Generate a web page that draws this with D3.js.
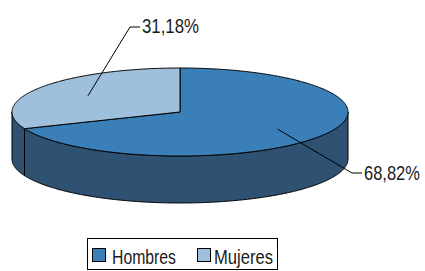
<!DOCTYPE html>
<html>
<head>
<meta charset="utf-8">
<script src="https://cdn.jsdelivr.net/npm/d3@7"></script>
<style>
  html, body { margin: 0; padding: 0; background: #fff; }
  svg { display: block; }
  text { font-family: "Liberation Sans", Arial, sans-serif; }
</style>
</head>
<body>
<svg id="chart" width="425" height="271"></svg>
<script>
const categories = ["Hombres", "Mujeres"];
const values = [68.82, 31.18];
const valueLabels = ["68,82%", "31,18%"];
const topColors = ["#3a7fb8", "#9ec0dc"];
const sideColors = ["#2f5172", "#2f5172"];

const W = 425, H = 271;
const cx = 180, cy = 112, rx = 168, ry = 44, depth = 47;

const svg = d3.select("#chart");
svg.append("rect").attr("width", W).attr("height", H).attr("fill", "#fff");

const pie = d3.pie().sort(null).value(d => d)(values);

const pt = (a, dy = 0, k = 1) => [cx + k * rx * Math.sin(a), cy - k * ry * Math.cos(a) + dy];

function arcPoints(a0, a1, dy) {
  const n = Math.max(2, Math.ceil((a1 - a0) / 0.01));
  const pts = [];
  for (let i = 0; i <= n; i++) pts.push(pt(a0 + (a1 - a0) * i / n, dy));
  return pts;
}

// condensed text: draw at natural width, then squeeze horizontally to target width
function condensedText(parent, x, y, str, size, width) {
  const gg = parent.append("g");
  const t = gg.append("text")
    .attr("x", 0).attr("y", 0)
    .attr("font-size", size)
    .attr("fill", "#1a1a1a")
    .text(str);
  const natural = t.node().getComputedTextLength() || width;
  const sx = width / natural;
  gg.attr("transform", `translate(${x},${y}) scale(${sx},1)`);
  return gg;
}

const line = d3.line();
const g = svg.append("g");

// side walls (front half only: angles between PI/2 and 3PI/2)
pie.forEach((s, i) => {
  const b0 = Math.max(s.startAngle, Math.PI / 2);
  const b1 = Math.min(s.endAngle, 3 * Math.PI / 2);
  if (b1 <= b0) return;
  const topEdge = arcPoints(b0, b1, 0);
  const botEdge = arcPoints(b0, b1, depth).reverse();
  g.append("path")
    .attr("d", line(topEdge.concat(botEdge)) + "Z")
    .attr("fill", sideColors[i])
    .attr("stroke", "#000")
    .attr("stroke-width", 1)
    .attr("stroke-linejoin", "round");
});

// top faces
pie.forEach((s, i) => {
  const pts = [[cx, cy]].concat(arcPoints(s.startAngle, s.endAngle, 0));
  g.append("path")
    .attr("d", line(pts) + "Z")
    .attr("fill", topColors[i])
    .attr("stroke", "#000")
    .attr("stroke-width", 1)
    .attr("stroke-linejoin", "round");
});

// labels with leader lines
const labelLayout = [
  { k: 0.70, elbow: [352, 173], end: [362, 173], text: [364, 180], width: 56 },
  { k: 0.66, elbow: [130, 27], end: [140, 27], text: [142, 33], width: 57 }
];
pie.forEach((s, i) => {
  const L = labelLayout[i];
  const mid = (s.startAngle + s.endAngle) / 2;
  const p0 = pt(mid, 0, L.k);
  g.append("path")
    .attr("d", line([p0, L.elbow, L.end]))
    .attr("fill", "none")
    .attr("stroke", "#000")
    .attr("stroke-width", 1);
  condensedText(g, L.text[0], L.text[1], valueLabels[i], 21, L.width);
});

// legend
const legend = svg.append("g");
legend.append("rect")
  .attr("x", 87.5).attr("y", 238.5).attr("width", 190).attr("height", 31)
  .attr("fill", "#fff").attr("stroke", "#000").attr("stroke-width", 1);
const legendItems = [
  { sq: 92, tx: 112, w: 64 },
  { sq: 197, tx: 214, w: 59 }
];
categories.forEach((c, i) => {
  const it = legendItems[i];
  legend.append("rect")
    .attr("x", it.sq + 0.5).attr("y", 248.5).attr("width", 13).attr("height", 13)
    .attr("fill", topColors[i]).attr("stroke", "#000").attr("stroke-width", 1);
  condensedText(legend, it.tx, 263.5, c, 21, it.w);
});
</script>
</body>
</html>
